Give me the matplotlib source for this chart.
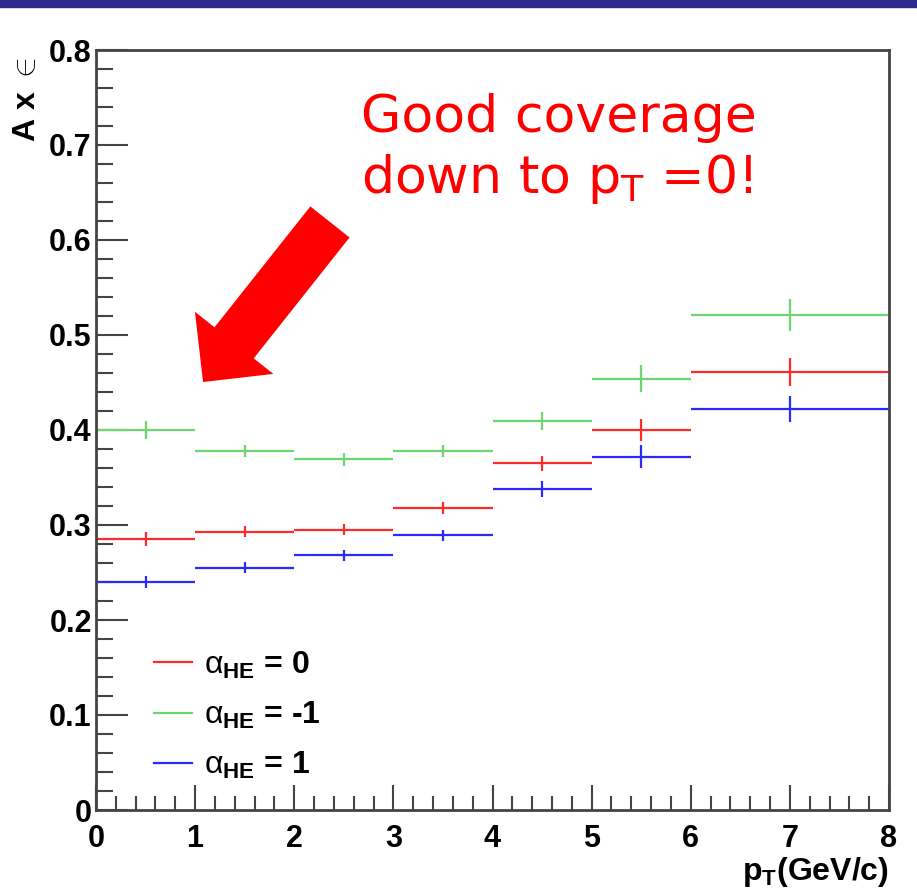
import matplotlib
matplotlib.use("Agg")
import matplotlib.pyplot as plt
from matplotlib.lines import Line2D
import numpy as np

# Data
bin_edges = [0, 1, 2, 3, 4, 5, 6, 8]
labels = [r"$\mathrm{α}_{\mathbf{HE}}$ = 0", r"$\mathrm{α}_{\mathbf{HE}}$ = -1", r"$\mathrm{α}_{\mathbf{HE}}$ = 1"]
red_vals = [0.285, 0.293, 0.295, 0.318, 0.365, 0.400, 0.461]
red_errs = [0.0075, 0.0055, 0.006, 0.006, 0.008, 0.012, 0.015]
green_vals = [0.400, 0.378, 0.369, 0.378, 0.409, 0.454, 0.521]
green_errs = [0.0095, 0.0065, 0.0065, 0.0065, 0.0095, 0.014, 0.017]
blue_vals = [0.240, 0.255, 0.268, 0.289, 0.338, 0.372, 0.422]
blue_errs = [0.0065, 0.006, 0.006, 0.006, 0.008, 0.012, 0.014]
colors = ["#ff2a2a", "#6fd66f", "#2a2aff"]

edges = np.array(bin_edges, dtype=float)
centers = 0.5 * (edges[:-1] + edges[1:])
halfw = 0.5 * (edges[1:] - edges[:-1])

plt.rcParams['font.family'] = ['Liberation Sans', 'DejaVu Sans']
plt.rcParams['mathtext.fontset'] = 'custom'
plt.rcParams['mathtext.rm'] = 'Liberation Sans'
plt.rcParams['mathtext.bf'] = 'Liberation Sans:bold'
plt.rcParams['mathtext.it'] = 'Liberation Sans:italic'

fig = plt.figure(figsize=(9.17, 8.92), dpi=100)
ax = fig.add_axes([96/917, 1 - 810/892, (889-96)/917, (810-50)/892])

for vals, errs, c in zip([red_vals, green_vals, blue_vals], [red_errs, green_errs, blue_errs], colors):
    ax.errorbar(centers, vals, xerr=halfw, yerr=errs, fmt='none', ecolor=c,
                elinewidth=1.6, capsize=0)

ax.set_xlim(0, 8)
ax.set_ylim(0, 0.8)
ax.set_xticks(np.arange(0, 9, 1))
ax.set_xticks(np.arange(0, 8.01, 0.2), minor=True)
ax.set_yticks(np.arange(0, 0.81, 0.1))
ax.set_yticks(np.arange(0, 0.801, 0.02), minor=True)
ax.set_xticklabels([str(i) for i in range(9)])
ax.set_yticklabels(["0"] + ["%.1f" % v for v in np.arange(0.1, 0.81, 0.1)])

ax.tick_params(axis='both', which='both', direction='in', top=False, right=False,
               color='#444444', width=1.5)
ax.tick_params(axis='y', which='major', length=23, pad=3, labelsize=22)
ax.tick_params(axis='y', which='minor', length=12)
ax.tick_params(axis='x', which='major', length=18, pad=10, labelsize=22)
ax.tick_params(axis='x', which='minor', length=10)
for lab in ax.get_xticklabels() + ax.get_yticklabels():
    lab.set_fontweight('bold')
for s in ax.spines.values():
    s.set_color('#444444')
    s.set_linewidth(2)

ax.set_xlabel(r"p$_{\mathbf{T}}$(GeV/c)", fontsize=23, fontweight='bold', loc='right', labelpad=1)
ax.set_ylabel(r"A x $\mathrm{\in}$", fontsize=23, fontweight='bold', loc='top')
ax.yaxis.set_label_coords(-0.068, 0.99)

handles = [Line2D([0], [0], color=c, lw=1.6) for c in colors]
leg = ax.legend(handles, labels, loc='lower left', bbox_to_anchor=(0.037, 0.0),
                frameon=False, handlelength=1.2, handletextpad=0.35,
                labelspacing=0.6, prop={'weight': 'bold', 'size': 23})

ax.annotate("", xy=(1.08, 0.4505), xytext=(2.36, 0.619), xycoords='data',
            arrowprops=dict(arrowstyle="simple,head_length=1.0,head_width=2.0,tail_width=1.0",
                            mutation_scale=36, color='red', shrinkA=0, shrinkB=0, lw=0))

fig.text(361/917, 1 - 132/892, "Good coverage", color='red', fontsize=37.5,
         family='DejaVu Sans', ha='left', va='baseline')
fig.text(361/917, 1 - 193/892, r"down to p$_{\mathrm{T}}$ =0!", color='red', fontsize=37.5,
         family='DejaVu Sans', ha='left', va='baseline', math_fontfamily='dejavusans')

fig.patches.append(plt.Rectangle((0, 1 - 7/892), 1, 7/892, transform=fig.transFigure,
                                 color='#2e2b8a', zorder=10))

fig.savefig("out.png", dpi=100)
